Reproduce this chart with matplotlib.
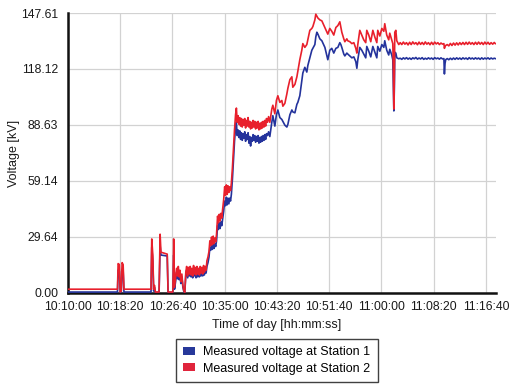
import matplotlib.pyplot as plt
from matplotlib.patches import Patch

plt.rcParams['font.family'] = ['Liberation Sans', 'DejaVu Sans']

# seconds after 10:10:00
t_sec = [0, 474, 480, 492, 500, 510, 518, 528, 536, 795, 802, 812, 820, 828, 836, 872, 882, 890, 950, 958,
         1004, 1012, 1020, 1030, 1040, 1048, 1056, 1064, 1072, 1080, 1090, 1100, 1110, 1118, 1128, 1136,
         1146, 1154, 1162, 1170, 1178, 1186, 1194, 1202, 1210, 1218, 1226, 1234, 1242, 1250, 1258, 1266,
         1274, 1282, 1290, 1298, 1306, 1314, 1322, 1330, 1340, 1350, 1358, 1366, 1374, 1382, 1390, 1398,
         1406, 1414, 1422, 1432, 1440, 1448, 1456, 1464, 1472, 1480, 1490, 1500, 1508, 1516, 1524, 1532,
         1540, 1548, 1556, 1564, 1574, 1584, 1594, 1604, 1612, 1620, 1628, 1636, 1644, 1652, 1660, 1668,
         1676, 1684, 1692, 1700, 1708, 1716, 1724, 1732, 1740, 1748, 1756, 1764, 1772, 1780, 1788, 1796,
         1804, 1812, 1820, 1828, 1836, 1844, 1852, 1860, 1868, 1876, 1884, 1892, 1900, 1910, 1920, 1932,
         1951, 1961, 1980, 1995, 2009, 2028, 2047, 2057, 2076, 2095, 2105, 2124, 2143, 2152, 2172, 2191,
         2200, 2219, 2238, 2248, 2267, 2286, 2296, 2315, 2334, 2344, 2363, 2372, 2382, 2392, 2411, 2430,
         2459, 2487, 2506, 2525, 2544, 2564, 2583, 2602, 2612, 2621, 2640, 2650, 2669, 2678, 2698, 2717,
         2736, 2755, 2765, 2774, 2793, 2812, 2831, 2850, 2860, 2879, 2898, 2918, 2937, 2956, 2965, 2985,
         3004, 3023, 3032, 3051, 3070, 3080, 3099, 3109, 3114, 3119, 3124, 3128, 3138, 3147, 3166,
         3180, 3195, 3210, 3225, 3240, 3255, 3270, 3285, 3300, 3315, 3330, 3345, 3360, 3375, 3390, 3405,
         3420, 3435, 3450, 3465, 3480, 3495, 3510, 3525, 3540, 3555, 3570, 3585, 3598, 3603, 3609, 3615,
         3630, 3645, 3660, 3675, 3690, 3705, 3720, 3735, 3750, 3765, 3780, 3795, 3810, 3825, 3840, 3855,
         3870, 3885, 3900, 3915, 3930, 3945, 3960, 3975, 3990, 4005, 4020, 4035, 4050, 4065, 4080, 4090]

# Station 1 (blue), kV
v_station1 = [0.5, 0.5, 12.0, 11.5, 0.3, 0.5, 12.5, 12.0, 0.5, 0.5, 24.0, 17.0, 1.0, 3.0, 0.3, 0.3, 25.0, 20.0, 19.5, 0.3,
              0.3, 20.0, 2.0, 6.0, 11.0, 7.5, 12.0, 7.0, 10.5, 5.0, 8.5, 3.0, 0.5, 0.2, 9.5, 12.0,
              8.0, 11.5, 9.0, 12.0, 8.5, 11.0, 8.0, 12.5, 9.0, 11.5, 8.0, 12.0, 8.5, 11.5, 8.5, 12.0,
              9.0, 11.5, 9.0, 12.5, 9.5, 12.5, 10.5, 14.0, 16.0, 19.0, 24.0, 22.5, 26.0, 23.0, 26.5, 23.5,
              26.0, 24.5, 27.5, 35.5, 33.5, 37.0, 34.0, 37.5, 35.5, 39.0, 43.0, 48.5, 46.0, 50.5, 46.5, 50.0,
              47.0, 50.0, 48.5, 52.0, 60.0, 70.0, 80.0, 87.0, 90.0, 83.0, 86.0, 82.0, 85.5, 81.0, 84.5, 80.5,
              84.0, 81.5, 85.0, 80.0, 83.5, 81.0, 84.5, 79.0, 82.5, 77.5, 82.0, 80.0, 83.5, 80.5, 83.0, 79.5,
              82.5, 80.0, 83.0, 79.0, 82.0, 79.5, 82.5, 80.0, 83.0, 80.5, 83.5, 81.0, 84.0, 83.0, 85.0, 82.5,
              90.0, 93.5, 88.0, 94.0, 96.5, 92.5, 91.5, 90.5, 88.5, 87.5, 89.0, 94.0, 96.5, 95.5, 95.0, 99.5,
              100.5, 104.0, 112.0, 116.0, 119.0, 116.5, 120.0, 124.0, 128.0, 129.0, 131.0, 135.0, 137.5, 136.5, 134.0, 133.0,
              129.5, 123.0, 128.0, 129.0, 126.5, 129.0, 129.5, 132.0, 131.0, 129.5, 126.0, 125.0, 126.5, 126.0, 125.0, 124.0,
              124.5, 122.0, 118.5, 123.0, 129.5, 128.0, 126.0, 124.0, 130.0, 127.5, 124.5, 130.0, 127.0, 124.0, 130.0, 127.5,
              131.0, 129.5, 133.0, 128.0, 125.5, 128.5, 125.5, 123.0, 110.0, 96.0, 108.0, 127.0, 126.5, 124.0, 123.5,
              123.8, 123.2, 124.0, 123.4, 124.1, 123.3, 123.9, 123.2, 124.0, 123.5, 124.2, 123.3, 123.9, 123.4, 124.1, 123.2,
              123.8, 123.3, 124.0, 123.4, 123.9, 123.2, 124.1, 123.5, 123.9, 123.3, 124.0, 123.4, 123.6, 115.5, 121.0, 123.0,
              123.6, 123.0, 123.8, 123.1, 123.9, 123.2, 124.0, 123.3, 123.9, 123.2, 124.0, 123.4, 123.9, 123.2, 124.1, 123.4,
              123.9, 123.3, 124.0, 123.4, 123.9, 123.2, 124.0, 123.3, 123.9, 123.4, 124.0, 123.3, 123.9, 123.4, 123.8, 123.6]

# Station 2 (red), kV
v_station2 = [2.0, 2.0, 15.5, 15.0, 0.5, 1.0, 16.0, 15.0, 2.0, 2.0, 28.5, 20.0, 2.0, 4.0, 0.5, 0.5, 31.0, 21.5, 20.5, 0.5,
              0.5, 28.5, 3.0, 8.0, 13.0, 9.0, 14.0, 8.5, 12.0, 6.0, 10.0, 4.0, 1.0, 0.3, 11.0, 14.0,
              9.0, 13.5, 10.0, 14.0, 9.5, 13.0, 9.0, 14.5, 10.0, 13.5, 9.5, 14.0, 10.0, 13.0, 9.5, 14.0,
              10.5, 13.5, 10.0, 14.5, 11.0, 14.0, 12.0, 17.0, 19.0, 22.0, 27.5, 25.0, 29.5, 25.5, 30.0, 26.0,
              29.0, 27.0, 31.0, 40.5, 37.0, 41.5, 38.0, 42.0, 39.5, 44.0, 49.0, 56.0, 51.5, 57.0, 52.0, 56.5,
              53.0, 56.0, 54.0, 58.0, 66.0, 76.0, 86.0, 94.0, 97.5, 90.0, 93.5, 89.0, 92.5, 88.0, 92.0, 87.5,
              91.5, 88.5, 92.0, 87.0, 91.0, 88.0, 92.5, 87.5, 90.5, 86.5, 90.0, 87.0, 91.0, 87.5, 90.5, 86.5,
              90.0, 87.0, 90.5, 86.0, 89.5, 86.5, 90.0, 87.0, 90.5, 87.5, 91.0, 88.0, 92.0, 90.0, 93.0, 90.0,
              97.0, 99.0, 94.5, 101.5, 104.0, 100.5, 101.5, 98.5, 100.0, 105.0, 108.0, 112.5, 114.0, 108.5, 110.0, 114.0,
              117.0, 123.0, 128.0, 131.5, 129.5, 131.0, 133.5, 138.5, 139.5, 140.5, 144.0, 147.0, 146.0, 145.0, 144.0, 143.5,
              140.0, 136.5, 139.5, 138.0, 136.0, 140.0, 141.0, 143.0, 140.0, 137.5, 134.0, 132.5, 134.0, 133.0, 132.5, 131.5,
              132.0, 129.0, 126.5, 131.0, 138.5, 136.0, 133.5, 132.0, 138.5, 136.0, 132.5, 138.5, 135.0, 132.0, 138.5, 135.5,
              139.5, 138.0, 142.0, 136.0, 133.5, 137.0, 133.5, 131.5, 120.0, 97.0, 115.0, 137.5, 138.5, 133.0, 131.0,
              132.0, 131.0, 132.3, 131.2, 132.0, 130.8, 132.2, 131.0, 132.4, 131.3, 132.0, 130.9, 132.3, 131.1, 132.1, 131.0,
              132.4, 131.2, 132.0, 130.9, 132.2, 131.0, 132.3, 131.3, 132.0, 131.0, 131.8, 131.2, 131.5, 129.0, 130.0, 130.5,
              131.0, 130.3, 131.6, 130.5, 131.8, 130.7, 131.9, 130.8, 132.0, 131.0, 132.1, 131.0, 132.2, 131.1, 132.3, 131.2,
              132.0, 131.0, 132.2, 131.1, 132.3, 131.2, 132.1, 131.0, 132.3, 131.2, 132.2, 131.1, 132.0, 131.2, 132.1, 131.5]

time_labels = ['10:10:00', '10:18:20', '10:26:40', '10:35:00', '10:43:20',
               '10:51:40', '11:00:00', '11:08:20', '11:16:40']
volt_labels = ['0.00', '29.64', '59.14', '88.63', '118.12', '147.61']
series_names = ['Measured voltage at Station 1', 'Measured voltage at Station 2']

blue = '#24339c'
red = '#e8202c'


def to_sec(s):
    h, m, sec = s.split(':')
    return int(h) * 3600 + int(m) * 60 + int(sec)


tick_pos = [to_sec(s) - to_sec(time_labels[0]) for s in time_labels]
ytick_pos = [float(v) for v in volt_labels]

fig = plt.figure(figsize=(5.11, 3.84), dpi=100)
ax = fig.add_axes([0.133, 0.237, 0.8375, 0.729])

ax.plot(t_sec, v_station1, color=blue, lw=1.2, zorder=3)
ax.plot(t_sec, v_station2, color=red, lw=1.2, zorder=4)

ax.set_xlim(0, 4096)
ax.set_ylim(0, ytick_pos[-1])
ax.set_xticks(tick_pos)
ax.set_xticklabels(time_labels)
ax.set_yticks(ytick_pos)
ax.set_yticklabels(volt_labels)
ax.tick_params(axis='both', length=0, labelsize=8.7, colors='#1a1a1a')
ax.tick_params(axis='y', pad=7)
ax.tick_params(axis='x', pad=6)

ax.grid(True, color='#d2d2d2', lw=0.9)
ax.set_axisbelow(True)
for side in ['top', 'right']:
    ax.spines[side].set_visible(False)
for side in ['left', 'bottom']:
    ax.spines[side].set_linewidth(1.8)
    ax.spines[side].set_color('#111111')

ax.set_xlabel('Time of day [hh:mm:ss]', fontsize=9, color='#1a1a1a')
ax.set_ylabel('Voltage [kV]', fontsize=9, color='#1a1a1a')
ax.xaxis.set_label_coords(0.488, -0.093)
ax.yaxis.set_label_coords(-0.112, 0.5)

handles = [Patch(facecolor='#27389a', edgecolor='none'), Patch(facecolor='#e0243c', edgecolor='none')]
leg = fig.legend(handles, series_names, loc='upper center', bbox_to_anchor=(0.542, 0.118),
                 fontsize=9, frameon=True, fancybox=False, edgecolor='#111111',
                 handlelength=0.95, handleheight=0.6, handletextpad=0.65,
                 borderpad=0.62, labelspacing=0.33, borderaxespad=0)
leg.get_frame().set_linewidth(1.0)

fig.savefig('out.png', dpi=100)
